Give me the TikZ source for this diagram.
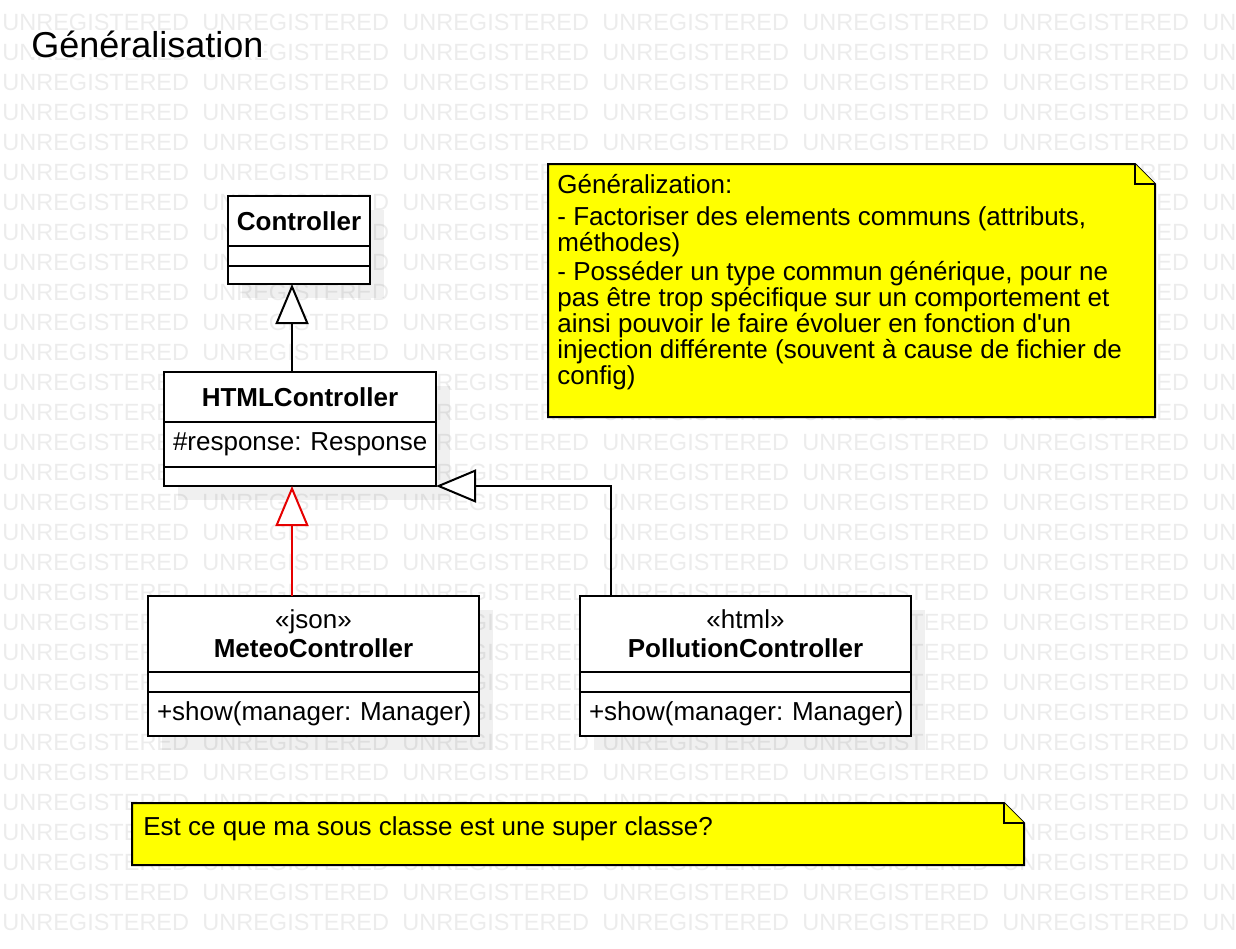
\documentclass[tikz,border=0pt]{standalone}
\usepackage{fontspec}
\setmainfont{Liberation Sans}
\usetikzlibrary{positioning, arrows.meta, calc}
\pgfdeclarelayer{background}
\pgfsetlayers{background,main}
\definecolor{noteyellow}{RGB}{255,255,0}
\definecolor{genred}{RGB}{230,0,0}
\frenchspacing

\tikzset{
  classname/.style={draw, line width=1pt, fill=white, inner sep=0pt, outer sep=0pt,
    align=center, anchor=north west, font=\fontsize{13pt}{14.5pt}\selectfont},
  classpart/.style={draw, line width=1pt, fill=white, inner xsep=4.5pt, inner ysep=0pt,
    outer sep=0pt, align=left, font=\fontsize{13pt}{14.5pt}\selectfont},
  classshadow/.style={fill=black, opacity=0.06},
  watermark/.style={anchor=base west, inner sep=0pt, text=black, text opacity=0.075,
    font=\fontsize{11.75pt}{12pt}\selectfont},
  notebox/.style={inner sep=0pt, outer sep=0pt, anchor=north west},
  notefold/.style={draw=black, fill=noteyellow, line width=1pt},
  notetext/.style={inner sep=0pt, align=left, anchor=base west,
    font=\fontsize{13pt}{12.9pt}\selectfont},
  generalize/.style={line width=1pt, -{Triangle[open, fill=white, length=20pt, width=16.5pt]}}
}

% yellow note with a folded corner
\newcommand{\dognote}[1]{%
  \filldraw[notefold] (#1.north west) -- ([xshift=-10pt]#1.north east)
    -- ([yshift=-10pt]#1.north east) -- (#1.south east) -- (#1.south west) -- cycle;
  \draw[notefold] ([xshift=-10pt]#1.north east) |- ([yshift=-10pt]#1.north east);
}

\begin{document}
\begin{tikzpicture}[x=0.5pt, y=-0.5pt]
  \useasboundingbox (0,0) rectangle (1236,948);

  \begin{pgfonlayer}{background}
    \fill[white] (0,0) rectangle (1236,948);
    \foreach \row in {0,...,30}{
      \foreach \col in {0,...,5}
        \node[watermark] (wm-\row-\col) at (2+200*\col, 30+30*\row) {UNREGISTERED};
      \node[watermark] (wm-\row-6) at (1202, 30+30*\row) {UN};
    }
  \end{pgfonlayer}

  \node[anchor=base west, inner sep=0pt, fill=white, font=\fontsize{18pt}{20pt}\selectfont]
    (title) at (31,57) {Généralisation};

  % classes
  \node[classname, minimum width=71pt, minimum height=25pt] (ctl) at (228,196) {\textbf{Controller}};
  \node[classpart, text width=62pt, minimum height=10pt, below=0pt of ctl] (ctlAttr) {};
  \node[classpart, text width=62pt, minimum height=9pt, below=0pt of ctlAttr] (ctlOps) {};

  \node[classname, minimum width=136pt, minimum height=25pt] (html) at (164,372) {\textbf{HTMLController}};
  \node[classpart, text width=127pt, minimum height=22.5pt, below=0pt of html] (htmlAttr) {\mbox{\#response: Response}};
  \node[classpart, text width=127pt, minimum height=9.5pt, below=0pt of htmlAttr] (htmlOps) {};

  \node[classname, minimum width=165.5pt, minimum height=38pt] (meteo) at (148,596) {«json»\\\textbf{MeteoController}};
  \node[classpart, text width=156.5pt, minimum height=10pt, below=0pt of meteo] (meteoAttr) {};
  \node[classpart, text width=156.5pt, minimum height=22pt, below=0pt of meteoAttr] (meteoOps) {\mbox{+show(manager: Manager)}};

  \node[classname, minimum width=165.5pt, minimum height=38pt] (poll) at (580,596) {«html»\\\textbf{PollutionController}};
  \node[classpart, text width=156.5pt, minimum height=10pt, below=0pt of poll] (pollAttr) {};
  \node[classpart, text width=156.5pt, minimum height=22pt, below=0pt of pollAttr] (pollOps) {\mbox{+show(manager: Manager)}};

  \begin{pgfonlayer}{background}
    \foreach \cls in {ctl, html, meteo, poll}
      \fill[classshadow] ([shift={(14,14)}]\cls.north west) rectangle ([shift={(14,14)}]\cls Ops.south east);
  \end{pgfonlayer}

  % generalizations
  \coordinate (genX) at (292,0);
  \coordinate (pollX) at (611,0);
  \draw[generalize] (genX |- html.north) -- (genX |- ctlOps.south);
  \draw[generalize, genred] (genX |- meteo.north) -- (genX |- htmlOps.south);
  \draw[generalize] (pollX |- poll.north) |- (htmlOps.south east);

  % notes
  \node[notebox, minimum width=303.5pt, minimum height=126.5pt] (genNote) at (548,164) {};
  \dognote{genNote}
  \node[notetext] (genText) at ($(genNote.north west)+(9,220)$) {Généralization:\\[3pt]
    - Factoriser des elements communs (attributs,\\
    méthodes)\\[2pt]
    - Posséder un type commun générique, pour ne\\
    pas être trop spécifique sur un comportement et\\
    ainsi pouvoir le faire évoluer en fonction d\textquotesingle un\\
    injection différente (souvent à cause de fichier de\\
    config)};

  \node[notebox, minimum width=446pt, minimum height=31pt] (askNote) at (132,803) {};
  \dognote{askNote}
  \node[notetext] (askText) at ($(askNote.north west)+(11,32)$) {Est ce que ma sous classe est une super classe?};
\end{tikzpicture}
\end{document}
